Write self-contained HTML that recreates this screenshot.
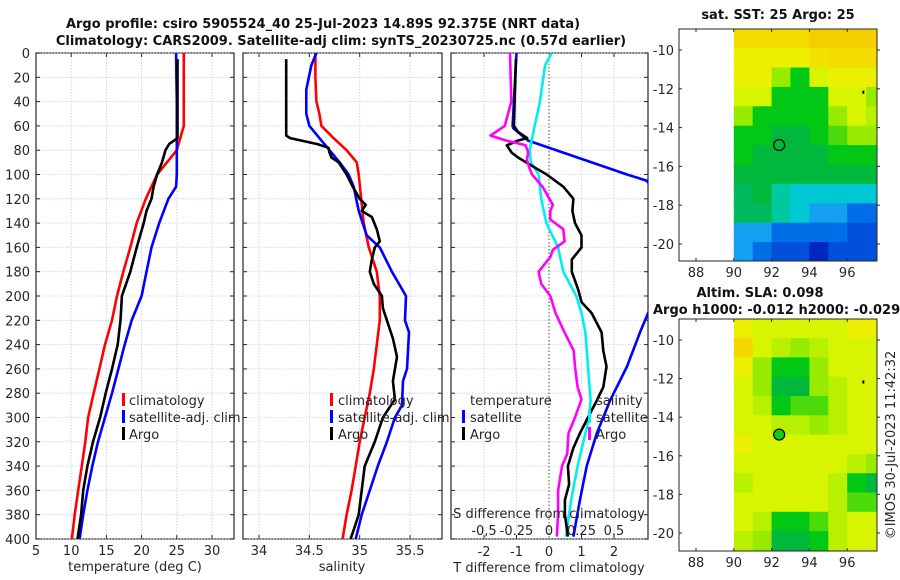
<!DOCTYPE html>
<html><head><meta charset="utf-8">
<style>
html,body{margin:0;padding:0;background:#fff;}
svg{display:block;font-family:"DejaVu Sans","Liberation Sans",sans-serif;}
.t{fill:#262626;font-size:13px;}
.b{font-weight:bold;fill:#111;font-size:13px;}
</style></head>
<body>
<svg id="c" width="900" height="580" viewBox="0 0 900 580">
<defs>
<clipPath id="cp1"><rect x="36" y="53" width="198" height="486"/></clipPath>
<clipPath id="cp2"><rect x="243" y="53" width="199" height="486"/></clipPath>
<clipPath id="cp3"><rect x="451" y="53" width="197" height="486"/></clipPath>
</defs>
<text class="b" x="323" y="28" text-anchor="middle">Argo profile: csiro 5905524_40 25-Jul-2023 14.89S 92.375E (NRT data)</text>
<text class="b" x="341" y="45" text-anchor="middle">Climatology: CARS2009. Satellite-adj clim: synTS_20230725.nc (0.57d earlier)</text>
<g id="g"></g>
</svg>
<script>
// ---------- data ----------
const tDepthClim=[0,20,40,60,80,100,120,140,160,180,200,220,240,260,280,300,320,340,360,380,400];
const tempClim=[26.0,26.0,26.0,26.0,25.0,22.2,20.6,19.3,18.4,17.4,16.5,15.8,14.8,14.0,13.2,12.4,12.0,11.5,11.0,10.5,10.1];
const tDepthSat=[0,20,40,60,80,100,110,120,140,160,180,200,220,240,260,280,300,320,340,360,380,400];
const tempSat=[24.9,24.95,25.0,25.0,25.0,25.0,24.9,23.8,22.5,21.4,20.7,20.0,18.6,17.6,16.7,15.8,14.8,13.8,13.0,12.3,11.7,11.2];
const tDepthArgo=[5,70,75,80,90,100,110,120,130,140,160,180,200,220,240,260,280,300,320,340,360,380,400];
const tempArgo=[25.1,25.1,23.9,23.4,22.9,22.2,21.7,21.4,20.7,20.3,19.3,18.4,17.2,17.0,16.6,15.8,14.9,14.1,13.1,12.3,11.7,11.4,10.9];

const sDepthClim=[0,20,40,50,60,70,80,90,100,140,160,180,200,220,240,260,280,300,320,340,360,380,400];
const salClim=[34.56,34.56,34.57,34.6,34.62,34.74,34.87,34.97,34.99,35.04,35.09,35.17,35.2,35.2,35.17,35.14,35.1,35.05,35.0,34.96,34.92,34.87,34.83];
const sDepthSat=[0,10,30,50,60,70,80,90,100,110,130,150,160,180,200,220,230,260,270,290,300,320,340,360,380,400];
const salSat=[34.57,34.52,34.47,34.47,34.5,34.6,34.7,34.8,34.89,34.94,34.99,35.07,35.2,35.32,35.46,35.45,35.49,35.47,35.43,35.42,35.35,35.27,35.18,35.1,35.02,34.96];
const sDepthArgo=[5,68,70,75,78,82,86,90,100,110,120,125,130,135,145,155,160,170,180,190,200,210,220,235,250,270,285,300,320,340,360,380,390,400];
const salArgo=[34.27,34.27,34.31,34.58,34.69,34.7,34.72,34.79,34.87,34.93,35.0,35.06,35.02,35.12,35.17,35.2,35.15,35.12,35.1,35.14,35.22,35.23,35.27,35.33,35.37,35.33,35.35,35.23,35.15,35.05,35.02,34.99,34.95,34.91];

const dDepthTSat=[0,40,60,62,72,100,105,150,214,230,258,286,313,340,368,398];
const dTSat=[-1.0,-1.08,-1.12,-1.1,-0.65,2.4,3.0,4.5,3.05,2.8,2.4,1.88,1.47,1.16,0.95,0.75];
const dDepthTArgo=[5,60,65,70,72,76,82,86,92,100,110,120,130,140,150,160,170,180,195,205,214,230,245,258,275,286,300,313,325,340,355,368,380,398];
const dTArgo=[-1.02,-1.08,-0.95,-0.67,-0.95,-1.3,-1.15,-0.95,-0.58,-0.07,0.44,0.75,0.72,0.8,1.0,1.0,0.7,0.7,0.9,1.0,1.31,1.62,1.67,1.77,1.67,1.47,1.2,0.95,0.75,0.58,0.62,0.49,0.49,0.58];
const dDepthSSat=[0,10,40,60,80,90,100,120,140,160,180,200,214,230,258,286,300,313,340,368,398];
const dSSat=[0.02,-0.03,-0.07,-0.11,-0.15,-0.14,-0.08,-0.06,-0.02,0.07,0.11,0.21,0.25,0.28,0.30,0.32,0.31,0.28,0.22,0.17,0.13];
const dDepthSArgo=[0,40,60,68,72,76,82,88,95,100,110,125,130,137,145,155,162,168,180,190,200,214,230,245,258,275,285,300,313,330,340,360,380,398];
const dSArgo=[-0.3,-0.29,-0.34,-0.45,-0.33,-0.18,-0.16,-0.17,-0.15,-0.13,-0.05,0.03,0.01,0.01,0.11,0.12,0.03,0.01,-0.08,-0.06,0.01,0.05,0.12,0.19,0.2,0.22,0.25,0.2,0.15,0.14,0.1,0.07,0.07,0.06];

const depthTicks=[0,20,40,60,80,100,120,140,160,180,200,220,240,260,280,300,320,340,360,380,400];
const tempTicks=[5,10,15,20,25,30];
const salTicks=[34,34.5,35,35.5];
const salTickLabels=["34","34.5","35","35.5"];
const dTTicks=[-2,-1,0,1,2];
const dSTicks=[-0.5,-0.25,0,0.25,0.5];
const dSTickLabels=["-0,5","-0.25","0","0.25","0.5"];

const lonTicks=[88,90,92,94,96];
const latTicks=[-10,-12,-14,-16,-18,-20];
const mapLons=[90,91,92,93,94,95,96,97];
const mapLats=[-9,-10,-11,-12,-13,-14,-15,-16,-17,-18,-19,-20];
const sstGrid=[
[7.9,7.9,7.9,7.9,8.2,8.2,8.2,8.2],
[7.5,7.5,7.5,7.5,7.8,7.9,7.9,7.9],
[7.5,7.5,6,5,7,7.5,7.5,7.5],
[7,7,5,5,5,7,7,6],
[6,5,5,5,5,6,7,6.5],
[5,5,4.5,4.5,5,5.5,6,6],
[5,4.5,4.5,4.5,4.5,5,5,5],
[4.5,4.5,4.5,4.5,4.5,4.5,4.5,4.5],
[4,4.5,3.5,3,3,3,3,3],
[4,4,3.5,3,2.5,2.5,2,2],
[2.5,2.5,2,2,2,2,1.5,1.5],
[2.5,2,1.5,1.5,1,1.5,1.5,1.5]];
const slaGrid=[
[7.5,7,7,7,7,7,7.5,7.5],
[8,7,6.5,6,6.5,7,7,7],
[7.5,6,5,5,6,7,7,7],
[7,6,4.5,4.5,6,6.5,7,7],
[7,6.5,5,5.5,5.5,6.5,7,7],
[7,7,6.5,6.5,6,6.5,7,7],
[7.5,7,7,7,7,7,7,7],
[7,7,7,7,7,7,6.5,6],
[6.5,7,7,7,7,6.5,5,4.5],
[7,7,7,7,7,6.5,5.5,5.5],
[7,6.5,5,5,5.5,6.5,7,7],
[6.5,6,4.5,4.5,5,6.5,7,7]];
const argoLon=[92.4];
const argoLat=[-14.9];

// ---------- helpers ----------
const NS="http://www.w3.org/2000/svg";
const G=document.getElementById('g');
function mk(tag,at,par){const e=document.createElementNS(NS,tag);for(const k in at)e.setAttribute(k,at[k]);(par||G).appendChild(e);return e;}
function txt(x,y,s,anchor,cls,par){const e=mk('text',{x:x,y:y,'text-anchor':anchor||'start','class':cls||'t'},par);e.textContent=s;return e;}
const Y=d=>53+d*486/400;
const X1=v=>36+(v-5)*7.04;
const X2=v=>259+(v-34)*100.7;
const X3=v=>549+v*32.5;
const XS=v=>549+v*130;

function frame(x0,x1,name){
  const r=mk('rect',{x:x0,y:53,width:x1-x0,height:486,fill:'none',stroke:'#262626','stroke-width':1.2});
  
  
  depthTicks.forEach(d=>{
    const l=mk('line',{x1:x0,x2:x1,y1:Y(d),y2:Y(d),stroke:'#c4cbe8','stroke-width':0.8,'stroke-dasharray':'1.5,1.5'});
    
    
    mk('line',{x1:x0,x2:x0+4,y1:Y(d),y2:Y(d),stroke:'#262626'});
    mk('line',{x1:x1-4,x2:x1,y1:Y(d),y2:Y(d),stroke:'#262626'});
  });
}
function vgrid(xs,fn,x0,x1,color){
  xs.forEach(v=>{const x=fn(v);if(x<x0+1||x>x1-1)return;
    const l=mk('line',{x1:x,x2:x,y1:53,y2:539,stroke:color||'#c4cbe8','stroke-width':0.8,'stroke-dasharray':'1.5,1.5'});
    
    
    mk('line',{x1:x,x2:x,y1:539,y2:535,stroke:'#262626'});
    mk('line',{x1:x,x2:x,y1:53,y2:57,stroke:'#262626'});
  });
}
function line(depths,vals,fx,color,clip,name){
  const pts=depths.map((d,i)=>fx(vals[i]).toFixed(1)+','+Y(d).toFixed(1)).join(' ');
  const p=mk('polyline',{points:pts,fill:'none',stroke:color,'stroke-width':2.6,'stroke-linejoin':'round','clip-path':'url(#'+clip+')'});
  
  
}
function legend(bx,tx,items){
  items.forEach((it,i)=>{
    const y=400+i*17;
    if(it.c){const r=mk('rect',{x:bx,y:y-7,width:3,height:13,fill:it.c});
      
      }
    const t=txt(tx,y+5,it.s);
    
    
  });
}

// ---------- panel 1 temperature ----------
vgrid([10,15,20,25,30],X1,36,234);
frame(36,234,'temperature-axes');
depthTicks.forEach(d=>{const t=txt(30,Y(d)+5,String(d),'end');
  
  });
tempTicks.forEach(v=>{const t=txt(X1(v),555,String(v),'middle');
  
  });
{const t=txt(135,571,'temperature (deg C)','middle');

}
line(tDepthClim,tempClim,X1,'#ff0000','cp1','temp-climatology-line');
line(tDepthSat,tempSat,X1,'#0000ff','cp1','temp-satellite-line');
line(tDepthArgo,tempArgo,X1,'#000000','cp1','temp-argo-line');
legend(122,129,[{c:'#ff0000',s:'climatology'},{c:'#0000ff',s:'satellite-adj. clim'},{c:'#000',s:'Argo'}]);

// ---------- panel 2 salinity ----------
vgrid(salTicks,X2,243,442);
frame(243,442,'salinity-axes');
salTicks.forEach((v,i)=>{const t=txt(X2(v),555,salTickLabels[i],'middle');
  
  });
{const t=txt(342,571,'salinity','middle');

}
line(sDepthClim,salClim,X2,'#ff0000','cp2','sal-climatology-line');
line(sDepthSat,salSat,X2,'#0000ff','cp2','sal-satellite-line');
line(sDepthArgo,salArgo,X2,'#000000','cp2','sal-argo-line');
legend(330,338,[{c:'#ff0000',s:'climatology'},{c:'#0000ff',s:'satellite-adj. clim'},{c:'#000',s:'Argo'}]);

// ---------- panel 3 differences ----------
vgrid([-2,-1,1,2],X3,451,648);
{const z=mk('line',{x1:X3(0),x2:X3(0),y1:53,y2:539,stroke:'#4a5a20','stroke-width':1,'stroke-dasharray':'1.5,2'});

}
frame(451,648,'difference-axes');
dTTicks.forEach(v=>{const t=txt(X3(v),556,String(v),'middle');
  
  });
{const t=txt(549,572,'T difference from climatology','middle');

}
line(dDepthTSat,dTSat,X3,'#0000ff','cp3','t-diff-satellite-line');
line(dDepthSSat,dSSat,XS,'#00eeee','cp3','s-diff-satellite-line');
line(dDepthTArgo,dTArgo,X3,'#000000','cp3','t-diff-argo-line');
line(dDepthSArgo,dSArgo,XS,'#ff00ff','cp3','s-diff-argo-line');
{const t=txt(549,518,'S difference from climatology','middle');

}
dSTicks.forEach((v,i)=>{const t=txt(XS(v),535,dSTickLabels[i],'middle');
  
  });
legend(462,470,[{c:null,s:'temperature'},{c:'#0000ff',s:'satellite'},{c:'#000',s:'Argo'}]);
legend(588,596,[{c:null,s:'salinity'},{c:'#00eeee',s:'satellite'},{c:'#ff00ff',s:'Argo'}]);

// ---------- maps ----------
const cstops=[[0,[0,0,140]],[1,[0,40,190]],[1.5,[0,80,220]],[2,[0,110,230]],[2.5,[20,160,240]],[3,[0,200,210]],[3.5,[0,200,160]],[4,[0,185,90]],[4.5,[0,185,60]],[5,[0,200,20]],[6,[150,235,0]],[7,[215,245,0]],[7.5,[235,240,0]],[8,[245,215,0]],[9,[245,170,0]]];
function cmap(v){for(let i=1;i<cstops.length;i++){if(v<=cstops[i][0]){const a=cstops[i-1],b=cstops[i];const f=(v-a[0])/(b[0]-a[0]);
  const c=a[1].map((q,k)=>Math.round(q+(b[1][k]-q)*f));return 'rgb('+c.join(',')+')';}}return 'rgb(245,170,0)';}
function drawMap(top,bottom,grid,name,filled){
  const x0=679,x1=877;
  const LX=l=>696+(l-88)*18.9;
  const lat10=top===29?50:340, lat20=top===29?244:533;
  const MY=la=>lat10+(-10-la)*(lat20-lat10)/10;
  const gg=mk('g',{});
  
  
  const clipId='mc'+top;
  const cp=mk('clipPath',{id:clipId},gg);mk('rect',{x:x0,y:top,width:x1-x0,height:bottom-top},cp);
  const cells=mk('g',{'clip-path':'url(#'+clipId+')'},gg);
  mapLats.forEach((la,r)=>{mapLons.forEach((lo,c)=>{
    const xa=LX(lo),xb=LX(lo+1),ya=MY(la+0.1),yb=MY(la-1);
    const rc=mk('rect',{x:xa.toFixed(1),y:(r===0?top:ya).toFixed(1),width:(xb-xa+0.6).toFixed(1),height:((yb-(r===0?top:ya))+0.6).toFixed(1),fill:cmap(grid[r][c])},cells);
    
    
  });});
  mk('rect',{x:x0,y:top,width:x1-x0,height:bottom-top,fill:'none',stroke:'#262626','stroke-width':1},gg);
  lonTicks.forEach(l=>{const x=LX(l);mk('line',{x1:x,x2:x,y1:bottom,y2:bottom-3,stroke:'#262626'},gg);mk('line',{x1:x,x2:x,y1:top,y2:top+3,stroke:'#262626'},gg);
    const t=txt(x,bottom+16,String(l),'middle','t',gg);
    
    });
  latTicks.forEach(la=>{const y=MY(la);mk('line',{x1:x0,x2:x0+3,y1:y,y2:y,stroke:'#262626'},gg);mk('line',{x1:x1,x2:x1+3,y1:y,y2:y,stroke:'#262626'},gg);
    const t=txt(674,y+5,String(la),'end','t',gg);
    
    });
  argoLon.forEach((lo,i)=>{const m=mk('circle',{cx:LX(lo),cy:MY(argoLat[i]),r:5.5,fill:filled?'#10d010':'none',stroke:'#000','stroke-width':1.2},gg);
    
    });
  mk('rect',{x:LX(96.8),y:MY(-12.1),width:2,height:3,fill:'#000'},gg);
}
drawMap(29,261,sstGrid,'sst-map',false);
drawMap(319,551,slaGrid,'sla-map',true);
{const t=txt(778,19,'sat. SST: 25 Argo: 25','middle','b');


const t2=txt(760,297,'Altim. SLA: 0.098','middle','b');


const t3=txt(653,314,'Argo h1000: -0.012 h2000: -0.029','start','b');


const t4=txt(0,0,'©IMOS 30-Jul-2023 11:42:32','middle');
t4.setAttribute('transform','translate(895,445) rotate(-90)');

}
</script>
</body></html>
